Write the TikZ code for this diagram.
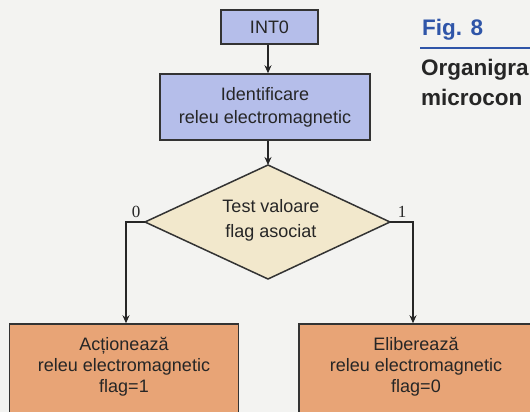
\documentclass[tikz,border=0pt]{standalone}
\usepackage{fontspec}
\setmainfont{Liberation Sans}
\newfontfamily\seriffont{Liberation Serif}
\usetikzlibrary{arrows.meta}
\definecolor{paper}{HTML}{F3F3F1}
\definecolor{boxblue}{HTML}{B5BEEA}
\definecolor{boxbeige}{HTML}{F2E8CC}
\definecolor{boxorange}{HTML}{E8A476}
\definecolor{edgegray}{HTML}{333333}
\definecolor{figblue}{HTML}{2F55A8}
\tikzset{
  stepbox/.style={draw=edgegray, line width=1.5pt, rectangle, inner sep=0pt, align=center,
    font=\fontsize{18}{23}\selectfont, text=black!85},
  conn/.style={draw=black!85, line width=1.2pt, -{Stealth[length=8pt,width=7pt]}},
  branch/.style={font=\seriffont\fontsize{17}{17}\selectfont, text=black!85},
  hdr/.style={anchor=base west, inner sep=0pt, font=\bfseries\fontsize{22.5}{22.5}\selectfont}
}
\begin{document}
\begin{tikzpicture}[x=1pt,y=-1pt]
\useasboundingbox (0,0) rectangle (530,412);
\fill[paper] (0,0) rectangle (530,412);

% header on the right
\node[hdr, text=figblue] (fig) at (422,36) {Fig. 8};
\draw[figblue, line width=2pt] (420,48) -- (531,48);
\node[hdr, text=black!85] (org) at (421,76) {Organigra};
\node[hdr, text=black!85] (mic) at (421,105) {microcon};

% boxes
\node[stepbox, fill=boxblue, minimum width=97pt, minimum height=34pt] (int) at (269.5,27) {INT0};
\node[stepbox, fill=boxblue, minimum width=210pt, minimum height=66pt] (ident) at (265,107)
  {Identificare\\releu electromagnetic};

% decision diamond
\coordinate (dT) at (268,165);
\coordinate (dB) at (268,279);
\coordinate (dL) at (145,222);
\coordinate (dR) at (390,222);
\filldraw[fill=boxbeige, draw=edgegray, line width=1.5pt] (dT) -- (dR) -- (dB) -- (dL) -- cycle;
\node[align=center, font=\fontsize{18}{25}\selectfont, text=black!85] (dtext) at (271,220)
  {Test valoare\\flag asociat};

% bottom boxes
\node[stepbox, fill=boxorange, minimum width=229pt, minimum height=96pt] (act) at (124,372) {};
\node[align=center, font=\fontsize{18}{21}\selectfont, text=black!85] (acttext) at (124,367)
  {Acționează\\releu electromagnetic\\flag=1};
\node[stepbox, fill=boxorange, minimum width=232pt, minimum height=96pt] (elib) at (415,372) {};
\node[align=center, font=\fontsize{18}{21}\selectfont, text=black!85] (elibtext) at (416,367)
  {Eliberează\\releu electromagnetic\\flag=0};

% connectors
\draw[conn] (int.south -| 268,0) -- (ident.north -| 268,0);
\draw[conn] (ident.south -| 268,0) -- (dT);
\coordinate (cl) at (126,222);
\coordinate (cr) at (413,222);
\draw[conn] (dL) -- (cl) -- (cl |- act.north);
\draw[conn] (dR) -- (cr) -- (cr |- elib.north);

% branch labels
\node[branch] (l0) at (136,212) {0};
\node[branch] (l1) at (402,212) {1};
\end{tikzpicture}
\end{document}
